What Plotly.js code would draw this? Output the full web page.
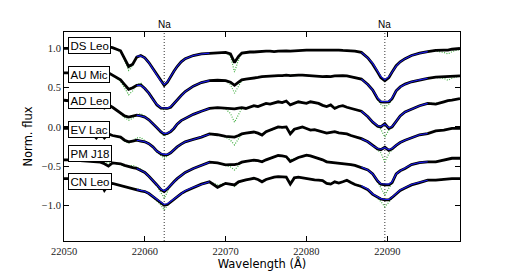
<!DOCTYPE html>
<html>
<head>
<meta charset="utf-8">
<script src="https://cdn.plot.ly/plotly-3.0.1.min.js"></script>
<style>html,body{margin:0;padding:0;background:#fff}#chart{width:512px;height:271px}</style>
</head>
<body>
<div id="chart"></div>
<script>
// Wavelength grid (Angstrom)
const wave = [22050,22051,22052,22053,22054,22054.5,22055,22055.5,22056,22057,22057.5,22058,22058.5,22059,22059.5,22060,22060.5,22061,22061.5,22062,22062.4,22062.8,22063.2,22063.6,22064,22064.5,22065,22066,22067,22068,22069,22070,22070.6,22071.1,22071.6,
  22072,22072.5,22073,22073.5,22074,22074.5,22075,22075.5,22076,22076.5,22077,22077.5,22078,22078.5,22079,22079.5,22080,22080.5,22081,22081.5,22082,22082.5,22083,22083.5,22084,22084.5,22085,22085.5,22086,
  22086.8,22087.6,22088.2,22088.8,22089.2,22089.7,22090.2,22090.6,22091.1,22091.6,22092.2,22093,22094,22095,22096,22097,22097.5,22098,22099];

const stars = ["DS Leo","AU Mic","AD Leo","EV Lac","PM J18","CN Leo"];
const labelY = [1.04,0.67,0.34,-0.03,-0.34,-0.70];

// Observed spectra (black)
const obsDSLeo = [1.00,1.00,1.01,1.01,1.01,1.01,1.02,1.02,1.01,0.97,0.87,0.77,0.80,0.89,0.91,0.88,0.82,0.74,0.66,0.58,0.53,0.57,0.65,0.71,0.77,0.83,0.87,0.91,0.93,0.94,0.945,0.95,0.93,0.82,0.90,
  0.94,0.95,0.955,0.955,0.96,0.96,0.965,0.965,0.96,0.965,0.97,0.97,0.965,0.97,0.975,0.975,0.98,0.98,0.98,0.985,0.985,0.98,0.98,0.98,0.98,0.975,0.975,0.97,0.965,
  0.95,0.88,0.80,0.70,0.63,0.59,0.63,0.70,0.78,0.83,0.87,0.91,0.94,0.96,0.975,0.98,0.98,0.99,1.00];
const obsAUMic = [0.69,0.69,0.70,0.70,0.70,0.70,0.70,0.69,0.66,0.60,0.54,0.48,0.50,0.53,0.535,0.49,0.43,0.35,0.28,0.24,0.235,0.235,0.25,0.30,0.35,0.40,0.45,0.52,0.565,0.59,0.595,0.59,0.57,0.53,0.57,
  0.60,0.61,0.615,0.62,0.63,0.64,0.645,0.65,0.655,0.655,0.655,0.66,0.655,0.66,0.66,0.66,0.655,0.65,0.65,0.645,0.64,0.645,0.64,0.65,0.655,0.655,0.65,0.64,0.63,
  0.61,0.54,0.47,0.36,0.32,0.315,0.32,0.36,0.46,0.51,0.545,0.575,0.60,0.62,0.635,0.64,0.64,0.645,0.65];
const obsADLeo = [0.34,0.33,0.32,0.31,0.25,0.28,0.24,0.28,0.25,0.18,0.14,0.125,0.135,0.15,0.14,0.125,0.09,0.045,-0.01,-0.065,-0.095,-0.085,-0.06,-0.02,0.035,0.08,0.11,0.16,0.20,0.235,0.245,0.24,0.235,0.23,0.24,
  0.245,0.235,0.255,0.27,0.26,0.28,0.30,0.29,0.31,0.32,0.31,0.33,0.28,0.30,0.32,0.31,0.30,0.32,0.31,0.30,0.275,0.26,0.28,0.235,0.26,0.27,0.25,0.235,0.215,
  0.20,0.13,0.06,0.01,0.00,0.04,-0.02,0.00,0.07,0.14,0.19,0.23,0.27,0.30,0.29,0.32,0.335,0.34,0.36];
const obsEVLac = [-0.02,-0.02,-0.03,-0.04,-0.14,-0.08,-0.14,-0.09,-0.11,-0.13,-0.17,-0.19,-0.18,-0.17,-0.18,-0.19,-0.215,-0.255,-0.31,-0.345,-0.36,-0.355,-0.33,-0.29,-0.255,-0.22,-0.19,-0.16,-0.13,-0.09,-0.10,-0.12,-0.125,-0.13,-0.11,
  -0.09,-0.08,-0.075,-0.065,-0.08,-0.105,-0.06,-0.04,-0.01,0.00,-0.005,0.00,-0.09,-0.03,-0.015,0.00,-0.02,-0.04,-0.035,-0.05,-0.065,-0.08,-0.07,-0.06,-0.075,-0.085,-0.09,-0.11,-0.125,
  -0.15,-0.19,-0.24,-0.28,-0.29,-0.26,-0.30,-0.28,-0.235,-0.20,-0.17,-0.135,-0.10,-0.085,-0.05,-0.04,-0.03,-0.02,-0.02];
const obsPMJ18 = [-0.42,-0.42,-0.43,-0.44,-0.45,-0.45,-0.47,-0.50,-0.46,-0.47,-0.49,-0.51,-0.52,-0.53,-0.55,-0.58,-0.63,-0.68,-0.74,-0.80,-0.825,-0.79,-0.74,-0.70,-0.66,-0.62,-0.58,-0.53,-0.49,-0.45,-0.46,-0.485,-0.48,-0.48,-0.47,
  -0.45,-0.44,-0.43,-0.425,-0.43,-0.445,-0.42,-0.40,-0.38,-0.365,-0.37,-0.38,-0.44,-0.41,-0.39,-0.375,-0.36,-0.37,-0.385,-0.40,-0.42,-0.445,-0.45,-0.455,-0.46,-0.47,-0.47,-0.48,-0.49,
  -0.52,-0.55,-0.60,-0.69,-0.73,-0.74,-0.74,-0.71,-0.60,-0.56,-0.53,-0.48,-0.455,-0.445,-0.445,-0.42,-0.41,-0.40,-0.40];
const obsCNLeo = [-0.66,-0.66,-0.67,-0.68,-0.70,-0.71,-0.81,-0.74,-0.72,-0.75,-0.76,-0.77,-0.79,-0.805,-0.815,-0.825,-0.85,-0.89,-0.93,-0.97,-1.00,-0.99,-0.955,-0.92,-0.885,-0.85,-0.82,-0.77,-0.73,-0.70,-0.77,-0.72,-0.735,-0.74,-0.70,
  -0.685,-0.675,-0.665,-0.655,-0.67,-0.70,-0.67,-0.655,-0.64,-0.635,-0.635,-0.64,-0.73,-0.65,-0.64,-0.65,-0.66,-0.665,-0.675,-0.68,-0.685,-0.72,-0.73,-0.70,-0.715,-0.70,-0.68,-0.71,-0.735,
  -0.76,-0.80,-0.86,-0.90,-0.92,-0.93,-0.93,-0.90,-0.85,-0.81,-0.78,-0.74,-0.71,-0.68,-0.68,-0.67,-0.66,-0.66,-0.66];

// Full synthetic model (green dotted)
const modDSLeo = [1.00,1.00,1.01,1.01,1.01,1.01,1.02,1.02,1.01,0.96,0.85,0.72,0.78,0.89,0.91,0.88,0.82,0.74,0.66,0.57,0.52,0.56,0.645,0.71,0.77,0.83,0.87,0.91,0.93,0.94,0.945,0.95,0.90,0.70,0.86,
  0.94,0.95,0.955,0.955,0.96,0.96,0.965,0.965,0.96,0.965,0.97,0.97,0.965,0.97,0.975,0.975,0.98,0.98,0.98,0.985,0.985,0.98,0.98,0.98,0.98,0.975,0.975,0.97,0.965,
  0.95,0.88,0.81,0.70,0.63,0.58,0.63,0.70,0.78,0.83,0.87,0.91,0.94,0.96,0.965,0.95,0.93,0.96,0.99];
const modAUMic = [0.69,0.69,0.70,0.70,0.70,0.70,0.70,0.69,0.66,0.58,0.50,0.41,0.46,0.54,0.56,0.50,0.43,0.35,0.28,0.235,0.22,0.23,0.25,0.30,0.35,0.40,0.45,0.52,0.565,0.59,0.595,0.585,0.54,0.43,0.52,
  0.59,0.61,0.615,0.62,0.63,0.64,0.645,0.65,0.655,0.655,0.655,0.66,0.655,0.66,0.66,0.66,0.655,0.65,0.65,0.645,0.64,0.645,0.64,0.65,0.655,0.655,0.65,0.64,0.63,
  0.61,0.54,0.47,0.35,0.29,0.25,0.29,0.35,0.46,0.51,0.545,0.575,0.60,0.62,0.63,0.62,0.595,0.62,0.65];
const modADLeo = [0.34,0.33,0.32,0.31,0.30,0.30,0.29,0.28,0.25,0.17,0.12,0.085,0.11,0.15,0.17,0.135,0.09,0.045,-0.01,-0.08,-0.12,-0.09,-0.06,-0.02,0.035,0.08,0.11,0.16,0.20,0.235,0.245,0.23,0.17,0.06,0.15,
  0.235,0.24,0.255,0.26,0.265,0.28,0.295,0.295,0.305,0.315,0.315,0.32,0.29,0.30,0.31,0.31,0.305,0.315,0.31,0.30,0.28,0.27,0.275,0.25,0.26,0.265,0.25,0.24,0.22,
  0.20,0.13,0.06,0.00,-0.03,-0.13,-0.04,0.00,0.07,0.14,0.19,0.23,0.27,0.30,0.30,0.32,0.33,0.34,0.36];
const modEVLac = [-0.02,-0.02,-0.03,-0.04,-0.06,-0.07,-0.08,-0.09,-0.11,-0.14,-0.18,-0.21,-0.18,-0.14,-0.135,-0.18,-0.215,-0.26,-0.32,-0.37,-0.40,-0.37,-0.33,-0.29,-0.255,-0.22,-0.19,-0.16,-0.13,-0.095,-0.10,-0.13,-0.17,-0.23,-0.15,
  -0.09,-0.08,-0.075,-0.07,-0.08,-0.09,-0.065,-0.045,-0.02,-0.01,-0.01,-0.01,-0.06,-0.03,-0.02,-0.01,-0.025,-0.04,-0.04,-0.05,-0.065,-0.075,-0.07,-0.065,-0.075,-0.085,-0.09,-0.105,-0.12,
  -0.15,-0.19,-0.24,-0.30,-0.33,-0.445,-0.34,-0.29,-0.235,-0.20,-0.17,-0.135,-0.10,-0.085,-0.05,-0.04,-0.03,-0.02,-0.02];
const modPMJ18 = [-0.42,-0.42,-0.43,-0.44,-0.45,-0.45,-0.46,-0.46,-0.46,-0.48,-0.50,-0.50,-0.49,-0.51,-0.54,-0.58,-0.63,-0.68,-0.75,-0.84,-0.91,-0.83,-0.75,-0.70,-0.66,-0.62,-0.58,-0.53,-0.49,-0.45,-0.46,-0.49,-0.51,-0.55,-0.50,
  -0.45,-0.44,-0.43,-0.43,-0.435,-0.44,-0.42,-0.40,-0.385,-0.37,-0.375,-0.385,-0.42,-0.405,-0.39,-0.38,-0.365,-0.375,-0.39,-0.40,-0.42,-0.44,-0.45,-0.455,-0.46,-0.465,-0.47,-0.48,-0.49,
  -0.51,-0.55,-0.60,-0.70,-0.78,-0.87,-0.78,-0.72,-0.61,-0.56,-0.53,-0.48,-0.455,-0.445,-0.44,-0.42,-0.41,-0.40,-0.40];
const modCNLeo = [-0.66,-0.66,-0.67,-0.68,-0.70,-0.71,-0.72,-0.72,-0.72,-0.75,-0.76,-0.78,-0.79,-0.79,-0.80,-0.825,-0.85,-0.89,-0.94,-1.00,-1.06,-1.00,-0.96,-0.92,-0.885,-0.85,-0.82,-0.77,-0.73,-0.70,-0.74,-0.72,-0.735,-0.76,-0.71,
  -0.685,-0.675,-0.665,-0.66,-0.67,-0.69,-0.67,-0.655,-0.645,-0.64,-0.64,-0.645,-0.70,-0.655,-0.645,-0.65,-0.66,-0.665,-0.675,-0.68,-0.685,-0.71,-0.72,-0.70,-0.71,-0.70,-0.685,-0.705,-0.73,
  -0.75,-0.80,-0.86,-0.91,-0.95,-1.02,-0.95,-0.91,-0.85,-0.81,-0.78,-0.74,-0.71,-0.68,-0.68,-0.67,-0.66,-0.66,-0.66];

// Na-line fit windows (blue)
const fitWaveA = [22059,22059.5,22060,22060.5,22061,22061.5,22062,22062.4,22062.8,22063.2,22063.6,22064,22064.5,22065,22066,22067,22068];
const fitWaveB = [22086.8,22087.6,22088.2,22088.8,22089.2,22089.7,22090.2,22090.6,22091.1,22091.6,22092.2,22093,22094,22095];
const fitDSLeoA = [0.90,0.905,0.88,0.82,0.74,0.66,0.58,0.54,0.575,0.645,0.71,0.77,0.83,0.87,0.91,0.93,0.94];
const fitDSLeoB = [0.95,0.88,0.81,0.71,0.645,0.60,0.64,0.70,0.775,0.83,0.87,0.91,0.94,0.96];
const fitAUMicA = [0.53,0.53,0.49,0.43,0.35,0.285,0.245,0.24,0.24,0.255,0.30,0.35,0.40,0.45,0.52,0.565,0.59];
const fitAUMicB = [0.61,0.54,0.47,0.37,0.325,0.32,0.325,0.37,0.46,0.51,0.545,0.575,0.60,0.62];
const fitADLeoA = [0.15,0.14,0.125,0.09,0.045,-0.01,-0.06,-0.085,-0.08,-0.055,-0.015,0.035,0.08,0.11,0.16,0.20,0.235];
const fitADLeoB = [0.20,0.13,0.065,0.015,0.005,0.035,-0.01,0.005,0.07,0.14,0.19,0.23,0.27,0.30];
const fitEVLacA = [-0.17,-0.18,-0.19,-0.215,-0.255,-0.31,-0.34,-0.35,-0.35,-0.33,-0.29,-0.255,-0.22,-0.19,-0.16,-0.13,-0.095];
const fitEVLacB = [-0.15,-0.19,-0.24,-0.275,-0.285,-0.265,-0.29,-0.275,-0.235,-0.20,-0.17,-0.135,-0.10,-0.085];
const fitPMJ18A = [-0.53,-0.55,-0.58,-0.63,-0.68,-0.74,-0.795,-0.815,-0.785,-0.74,-0.70,-0.66,-0.62,-0.58,-0.53,-0.49,-0.45];
const fitPMJ18B = [-0.51,-0.55,-0.60,-0.685,-0.725,-0.73,-0.73,-0.70,-0.60,-0.56,-0.53,-0.48,-0.455,-0.445];
const fitCNLeoA = [-0.80,-0.81,-0.82,-0.85,-0.885,-0.925,-0.965,-0.99,-0.98,-0.95,-0.915,-0.88,-0.845,-0.815,-0.77,-0.73,-0.70];
const fitCNLeoB = [-0.75,-0.795,-0.855,-0.895,-0.915,-0.925,-0.925,-0.895,-0.845,-0.805,-0.775,-0.735,-0.705,-0.68];

const naLines = [22062.4, 22089.7];
const naLabels = ["Na","Na"];
const xTicks = [22050,22060,22070,22080,22090];
const yTicks = [-1.0,-0.5,0.0,0.5,1.0];

const obs = [obsDSLeo,obsAUMic,obsADLeo,obsEVLac,obsPMJ18,obsCNLeo];
const mod = [modDSLeo,modAUMic,modADLeo,modEVLac,modPMJ18,modCNLeo];
const fitA = [fitDSLeoA,fitAUMicA,fitADLeoA,fitEVLacA,fitPMJ18A,fitCNLeoA];
const fitB = [fitDSLeoB,fitAUMicB,fitADLeoB,fitEVLacB,fitPMJ18B,fitCNLeoB];

const traces = [];
for (let i = 0; i < stars.length; i++) {
  traces.push({x: wave, y: mod[i], mode: 'lines', line: {color: '#3fae3f', width: 1.2, dash: '1px,1.5px'}, hoverinfo: 'skip'});
}
for (let i = 0; i < stars.length; i++) {
  traces.push({x: wave, y: obs[i], mode: 'lines', line: {color: '#000', width: 2.8}, hoverinfo: 'skip'});
}
for (let i = 0; i < stars.length; i++) {
  traces.push({x: fitWaveA, y: fitA[i], mode: 'lines', line: {color: '#1a1aee', width: 1.1}, hoverinfo: 'skip'});
  traces.push({x: fitWaveB, y: fitB[i], mode: 'lines', line: {color: '#1a1aee', width: 1.1}, hoverinfo: 'skip'});
}

const shapes = naLines.map(w => ({type: 'line', xref: 'x', yref: 'paper', x0: w, x1: w, y0: 0, y1: 1, line: {color: '#333', width: 1, dash: '1px,2px'}, layer: 'below'}));

const annotations = [];
naLines.forEach((w, k) => annotations.push({x: w, xref: 'x', y: 1, yref: 'paper', yanchor: 'bottom', text: naLabels[k], showarrow: false, font: {family: 'Liberation Sans, sans-serif', size: 10, color: '#000'}}));
stars.forEach((s, i) => annotations.push({x: 22050.55, xref: 'x', xanchor: 'left', y: labelY[i], yref: 'y', yanchor: 'middle', text: s, showarrow: false, bgcolor: '#fff', bordercolor: '#000', borderwidth: 1, borderpad: 1.5, font: {family: 'Liberation Sans, sans-serif', size: 11.5, color: '#000'}}));

const layout = {
  width: 512, height: 271,
  margin: {l: 64, r: 52, t: 32, b: 30},
  paper_bgcolor: '#fff', plot_bgcolor: '#fff',
  showlegend: false,
  xaxis: {
    range: [22050, 22099], tickvals: xTicks, ticktext: xTicks.map(String),
    ticks: 'inside', ticklen: 5, tickcolor: '#000', showline: true, linecolor: '#000', linewidth: 1, mirror: 'ticks',
    showgrid: false, zeroline: false,
    tickfont: {family: 'Liberation Serif, serif', size: 10.5, color: '#222'},
    title: {text: 'Wavelength (Å)', font: {family: 'DejaVu Sans, sans-serif', size: 11.5, color: '#000'}, standoff: 5},
    automargin: false
  },
  yaxis: {
    range: [-1.455, 1.21], tickvals: yTicks, tickformat: '.1f',
    ticks: 'inside', ticklen: 5, tickcolor: '#000', showline: true, linecolor: '#000', linewidth: 1, mirror: 'ticks',
    showgrid: false, zeroline: false,
    tickfont: {family: 'Liberation Serif, serif', size: 10.5, color: '#222'},
    title: {text: 'Norm. flux', font: {family: 'DejaVu Sans, sans-serif', size: 11.5, color: '#000'}, standoff: 6},
    automargin: false
  },
  shapes: shapes,
  annotations: annotations
};

Plotly.newPlot('chart', traces, layout, {displayModeBar: false, staticPlot: true});
</script>
</body>
</html>
